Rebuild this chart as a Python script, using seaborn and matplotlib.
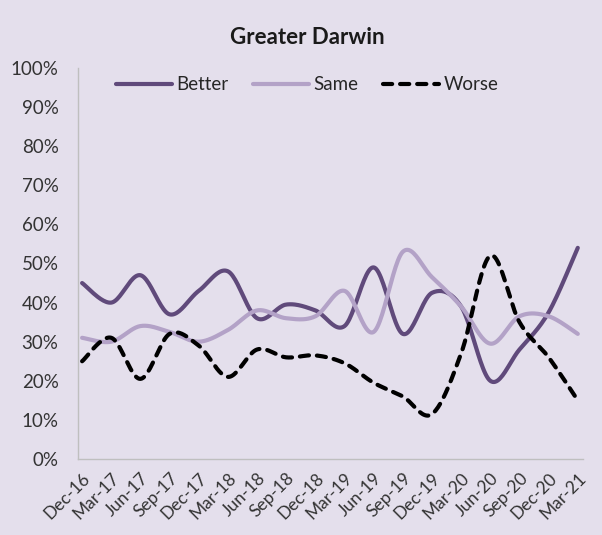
import numpy as np
import pandas as pd
import matplotlib
matplotlib.use("Agg")
import matplotlib.pyplot as plt
import seaborn as sns

# Quarterly survey results, Greater Darwin (% of respondents)
quarters = ["Dec-16", "Mar-17", "Jun-17", "Sep-17", "Dec-17", "Mar-18", "Jun-18", "Sep-18",
            "Dec-18", "Mar-19", "Jun-19", "Sep-19", "Dec-19", "Mar-20", "Jun-20", "Sep-20",
            "Dec-20", "Mar-21"]
better = [45, 40, 47, 37, 43, 48, 36, 39.5, 38, 34, 49, 32, 42.5, 39, 20, 28, 37.5, 54]
same = [31, 30, 34, 32.5, 30, 33, 38, 36, 36.5, 43, 32.5, 53, 46.5, 39, 29.5, 36.5, 36.5, 32]
worse = [25, 31, 20.5, 32, 29, 21, 28, 26, 26.5, 24.5, 19.5, 16, 11.5, 27, 52, 35, 26, 15]

BG = "#E4DFEC"
colors = {"Better": "#604A7B", "Same": "#B3A2C7", "Worse": "#000000"}


def smooth(y, steps=24):
    """Excel-style smoothed line (Catmull-Rom Bezier) through the data points"""
    y = np.asarray(y, dtype=float)
    x = np.arange(len(y), dtype=float)
    xp = np.r_[x[0], x, x[-1]]
    yp = np.r_[y[0], y, y[-1]]
    xs, ys = [], []
    t = np.linspace(0, 1, steps, endpoint=False)
    for i in range(len(y) - 1):
        p0, p1, p2, p3 = i, i + 1, i + 2, i + 3
        for arr, out in ((xp, xs), (yp, ys)):
            b0 = arr[p1]
            b1 = arr[p1] + (arr[p2] - arr[p0]) / 6
            b2 = arr[p2] - (arr[p3] - arr[p1]) / 6
            b3 = arr[p2]
            out.extend((1 - t) ** 3 * b0 + 3 * (1 - t) ** 2 * t * b1
                       + 3 * (1 - t) * t ** 2 * b2 + t ** 3 * b3)
    xs.append(x[-1])
    ys.append(y[-1])
    return np.array(xs), np.array(ys)


sns.set_style("white")
plt.rcParams["font.family"] = ["Lato", "DejaVu Sans"]

fig = plt.figure(figsize=(6.02, 5.35), dpi=100, facecolor=BG)
ax = fig.add_axes([0.1296, 0.142, 0.8384, 0.731])
ax.set_facecolor(BG)

for name, vals in (("Better", better), ("Same", same), ("Worse", worse)):
    sx, sy = smooth(vals)
    df = pd.DataFrame({"x": sx, "y": sy})
    if name == "Worse":
        sns.lineplot(data=df, x="x", y="y", sort=False, ax=ax, color=colors[name],
                     linewidth=3, label=name, linestyle=(0, (2.2, 1.9)),
                     dash_capstyle="round")
    else:
        sns.lineplot(data=df, x="x", y="y", sort=False, ax=ax, color=colors[name],
                     linewidth=3, label=name, solid_capstyle="round")

ax.set_xlim(-0.14, len(quarters) - 1 + 0.17)
ax.set_ylim(0, 100)
ax.set_yticks(np.arange(0, 101, 10))
ax.set_yticklabels([f"{v}%" for v in range(0, 101, 10)], fontsize=13.5, color="#333333")
ax.set_xticks(range(len(quarters)))
ax.set_xticklabels(quarters, rotation=45, ha="right", rotation_mode="anchor",
                   fontsize=12.5, color="#333333")
ax.tick_params(axis="y", length=0, pad=14)
ax.tick_params(axis="x", length=0, pad=8)
ax.set_xlabel("")
ax.set_ylabel("")

for side in ("top", "right"):
    ax.spines[side].set_visible(False)
for side in ("left", "bottom"):
    ax.spines[side].set_color("#BFBFBF")
    ax.spines[side].set_linewidth(1)

ax.legend(loc="center", bbox_to_anchor=(0.454, 0.957), ncol=3, frameon=False,
          fontsize=13.5, handlelength=3.0, handletextpad=0.22, columnspacing=1.3,
          labelcolor="#262626")

fig.text(0.51, 0.929, "Greater Darwin", ha="center", va="center", fontsize=16,
         fontweight="bold", color="#1a1a1a")

fig.savefig("out.png", dpi=100, facecolor=BG)
